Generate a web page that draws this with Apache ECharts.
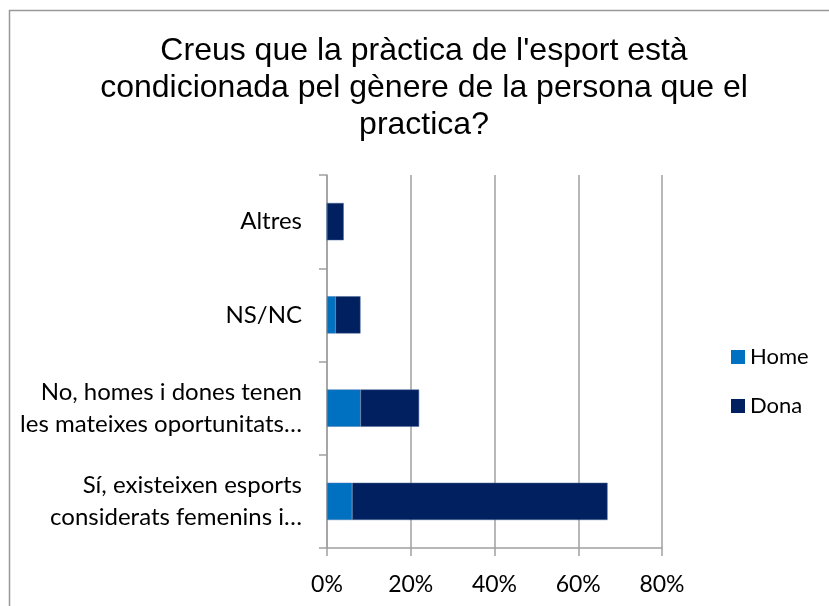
<!DOCTYPE html>
<html>
<head>
    <meta charset="utf-8">
    <title>ECharts</title>
    <script src="https://cdn.jsdelivr.net/npm/echarts@6/dist/echarts.min.js"></script>
</head>
<body style="margin:0">
<div id="main" style="width: 829px;height:606px;"></div>
<script type="text/javascript">
// categories from bottom to top, as the chart draws them
var categories = [
    'Sí, existeixen esports\nconsiderats femenins i…',
    'No, homes i dones tenen\nles mateixes oportunitats…',
    'NS/NC',
    'Altres'
];
var home = [6, 8, 2, 0];
var dona = [61, 14, 6, 4];
var tickLabels = ['0%', '20%', '40%', '60%', '80%'];

var myChart = echarts.init(document.getElementById('main'));

var labelFont = 'Lato';

myChart.setOption({
    backgroundColor: '#fff',
    animation: false,
    graphic: [{
        type: 'polyline',
        shape: {points: [[9.5, 606], [9.5, 10.5], [829, 10.5]]},
        style: {stroke: '#999', lineWidth: 1.5, fill: null}
    }],
    title: {
        text: "Creus que la pràctica de l'esport està\ncondicionada pel gènere de la persona que el\npractica?",
        left: 419,
        top: 28,
        textAlign: 'center',
        textStyle: {
            fontFamily: 'Liberation Sans',
            fontSize: 32,
            fontWeight: 'normal',
            lineHeight: 37,
            color: '#000'
        }
    },
    legend: {
        orient: 'vertical',
        left: 726,
        top: 341,
        itemWidth: 14,
        itemHeight: 14,
        itemGap: 27,
        icon: 'rect',
        itemStyle: {borderWidth: 0},
        textStyle: {fontFamily: labelFont, fontSize: 22, color: '#000'},
        data: ['Home', 'Dona']
    },
    grid: {
        left: 327,
        right: 167,
        top: 175,
        bottom: 58,
        containLabel: false
    },
    xAxis: {
        type: 'value',
        min: 0,
        max: 80,
        interval: 20,
        axisLine: {show: true, lineStyle: {color: '#a0a0a0', width: 1.5}},
        axisTick: {show: true, length: 8, lineStyle: {color: '#a0a0a0', width: 1.5}},
        splitLine: {show: true, lineStyle: {color: '#a0a0a0', width: 1.5}},
        axisLabel: {
            margin: 25,
            fontFamily: labelFont,
            fontSize: 23,
            color: '#000',
            formatter: function (v) { return tickLabels[v / 20]; }
        }
    },
    yAxis: {
        type: 'category',
        data: categories,
        axisLine: {show: true, lineStyle: {color: '#a0a0a0', width: 1.5}},
        axisTick: {show: true, length: 8, lineStyle: {color: '#a0a0a0', width: 1.5}},
        axisLabel: {
            margin: 25,
            fontFamily: labelFont,
            fontSize: 24,
            lineHeight: 32,
            color: '#000',
            align: 'right'
        }
    },
    series: [
        {
            name: 'Home',
            type: 'bar',
            stack: 'total',
            barCategoryGap: '60%',
            itemStyle: {color: '#0070C0', borderColor: '#4f7fb8', borderWidth: 0.5},
            data: home
        },
        {
            name: 'Dona',
            type: 'bar',
            stack: 'total',
            barCategoryGap: '60%',
            itemStyle: {color: '#002060', borderColor: '#4f6a9a', borderWidth: 0.5},
            data: dona
        }
    ]
});
</script>
</body>
</html>
